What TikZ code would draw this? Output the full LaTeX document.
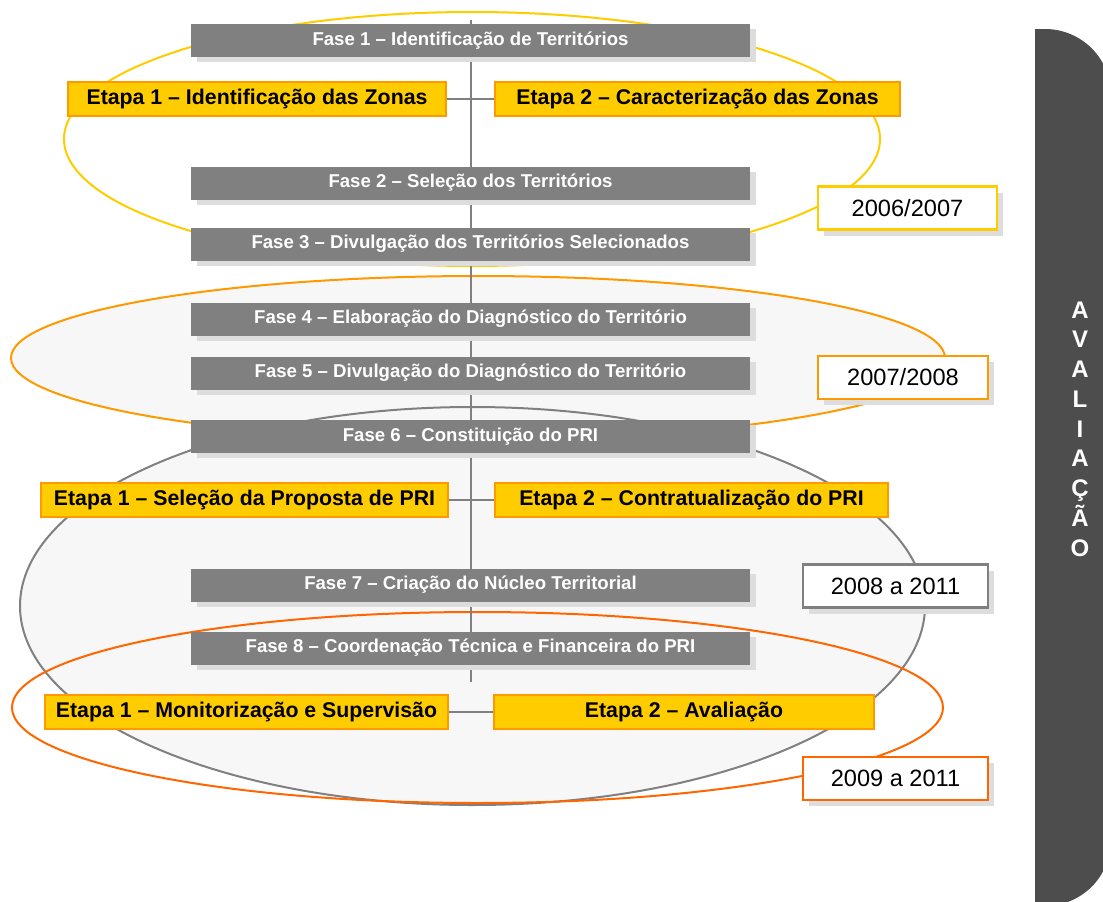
\documentclass[tikz,border=0pt]{standalone}
\usepackage{fontspec}
\setmainfont{Liberation Sans}
\usetikzlibrary{shadows}
\definecolor{fasegrey}{HTML}{808080}
\definecolor{barcol}{HTML}{4D4D4D}
\definecolor{amarelo}{HTML}{FFCC00}
\definecolor{laranja}{HTML}{FF9900}
\definecolor{laranjaesc}{HTML}{FF6600}
\definecolor{sombra}{HTML}{DDDDDD}
\definecolor{fundo}{HTML}{F7F7F7}
\begin{document}
\begin{tikzpicture}[x=1pt,y=-1pt,
 fase/.style={fill=fasegrey,text=white,font=\fontsize{18.6}{20}\selectfont\bfseries,minimum width=559pt,minimum height=33pt,inner sep=0pt,drop shadow={shadow xshift=6pt,shadow yshift=-5pt,fill=sombra,opacity=1}},
 etapa/.style={fill=amarelo,draw=laranja,line width=1.6pt,font=\fontsize{21.3}{24}\selectfont\bfseries,minimum height=34pt,inner sep=0pt},
 ano/.style={fill=white,line width=2.2pt,font=\fontsize{23.6}{26}\selectfont,minimum height=43pt,inner sep=0pt,drop shadow={shadow xshift=6pt,shadow yshift=-6pt,fill=sombra,opacity=1}},
 letra/.style={text=white,font=\fontsize{24}{26}\selectfont\bfseries,inner sep=0pt},
 liga/.style={draw=fasegrey,line width=2pt},
 zona/.style={line width=2pt}]
\useasboundingbox(0,0)rectangle(1103,902);
\begin{scope}\clip(0,0)rectangle(1103,902);
\fill[barcol](1035,29)--(1045,29)arc[start angle=-90,end angle=0,radius=66]--(1111,840)arc[start angle=0,end angle=90,radius=66]--(1035,906)--cycle;
\end{scope}
\foreach \l[count=\i from 0] in {A,V,A,L,I,A,Ç,Ã,O}\node[letra,anchor=base](av\i)at(1080,318+29.75*\i){\l};
\draw[zona,draw=amarelo](472,139)ellipse[x radius=408,y radius=127];
\draw[zona,draw=laranja,fill=fundo](478,358)ellipse[x radius=467,y radius=82];
\draw[zona,draw=fasegrey,fill=fundo](472.5,606)ellipse[x radius=452.5,y radius=199];
\draw[zona,draw=laranjaesc](477.5,707.5)ellipse[x radius=465.5,y radius=95.5];
\coordinate(topo)at(471,20);\coordinate(fim)at(471,682);\draw[liga](topo)--(fim);
\node[fase](fase1)at(470.5,40.5){Fase 1 – Identificação de Territórios};
\node[fase](fase2)at(470.5,183){Fase 2 – Seleção dos Territórios};
\node[fase](fase3)at(470.5,244){Fase 3 – Divulgação dos Territórios Selecionados};
\node[fase](fase4)at(470.5,319){Fase 4 – Elaboração do Diagnóstico do Território};
\node[fase](fase5)at(470.5,373){Fase 5 – Divulgação do Diagnóstico do Território};
\node[fase](fase6)at(470.5,436.5){Fase 6 – Constituição do PRI};
\node[fase](fase7)at(470.5,585){Fase 7 – Criação do Núcleo Territorial};
\node[fase](fase8)at(470.5,648){Fase 8 – Coordenação Técnica e Financeira do PRI};
\node[etapa,minimum width=378pt](e1a)at(257,99){Etapa 1 – Identificação das Zonas};\node[etapa,minimum width=405pt](e1b)at(697.5,99){Etapa 2 – Caracterização das Zonas};\draw[liga](e1a)--(e1b);
\node[etapa,minimum width=407pt](e6a)at(244.5,500){Etapa 1 – Seleção da Proposta de PRI};\node[etapa,minimum width=393pt](e6b)at(691.5,500){Etapa 2 – Contratualização do PRI};\draw[liga](e6a)--(e6b);
\node[etapa,minimum width=403pt](e8a)at(246.5,712){Etapa 1 – Monitorização e Supervisão};\node[etapa,minimum width=380pt](e8b)at(684,712){Etapa 2 – Avaliação};\draw[liga](e8a)--(e8b);
\node[ano,draw=amarelo,minimum width=179pt](ano1)at(907.5,208){2006/2007};
\node[ano,draw=laranja,minimum width=170pt](ano2)at(903,377.5){2007/2008};
\node[ano,draw=fasegrey,minimum width=185pt](ano3)at(895.5,586){2008 a 2011};
\node[ano,draw=laranjaesc,minimum width=185pt](ano4)at(895.5,778.5){2009 a 2011};
\end{tikzpicture}
\end{document}
